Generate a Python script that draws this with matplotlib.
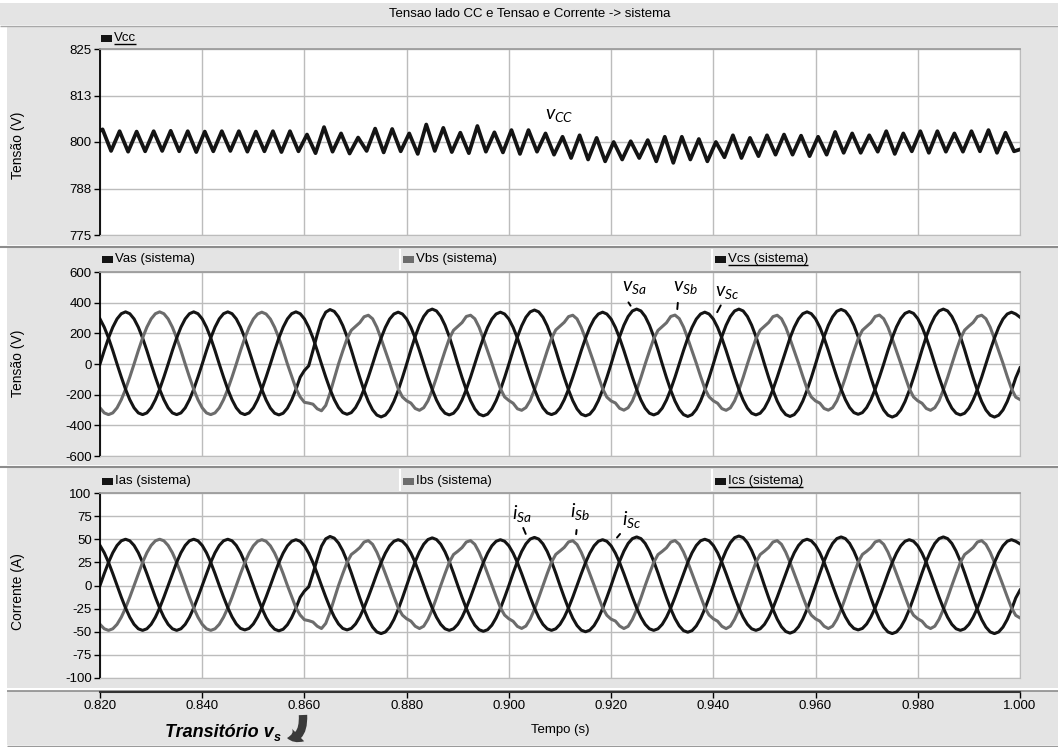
import numpy as np
import matplotlib.pyplot as plt
from matplotlib.patches import Rectangle, FancyArrowPatch
from matplotlib.path import Path

W, H = 1058, 747
FONT = "Liberation Sans"

plt.rcParams["font.family"] = [FONT, "DejaVu Sans"]
plt.rcParams["mathtext.fontset"] = "custom"
plt.rcParams["mathtext.it"] = "Lato:italic"
plt.rcParams["mathtext.rm"] = "Lato"

# sample grid of the phase waveforms: 24 samples per 50 Hz cycle
T_START = 0.820
STEP = 1 / 1200

X_TICKS = [0.82, 0.84, 0.86, 0.88, 0.90, 0.92, 0.94, 0.96, 0.98, 1.00]
X_LABELS = ["0.820", "0.840", "0.860", "0.880", "0.900", "0.920", "0.940", "0.960", "0.980", "1.000"]

VCC_TICKS = [775, 787.5, 800, 812.5, 825]
VCC_LABELS = ["775", "788", "800", "813", "825"]
V_TICKS = [-600, -400, -200, 0, 200, 400, 600]
V_LABELS = ["-600", "-400", "-200", "0", "200", "400", "600"]
I_TICKS = [-100, -75, -50, -25, 0, 25, 50, 75, 100]
I_LABELS = ["-100", "-75", "-50", "-25", "0", "25", "50", "75", "100"]

# DC link voltage: ripple peaks / troughs (300 Hz)
VCC_FIRST, VCC_LAST = 803.0, 798.0
VCC_PEAK_T0 = 0.8205
vcc_peaks = [
    803.4, 802.9, 802.8, 802.9, 803.0, 802.9, 802.8, 802.9, 802.9, 802.8, 802.9, 802.9,
    802.0, 804.0, 802.3, 801.2, 803.6, 803.5, 802.3, 804.7, 803.8, 802.5, 804.3, 802.6,
    803.2, 803.2, 802.3, 801.4, 801.8, 801.1, 800.0, 800.2, 800.5, 801.4, 801.4, 800.8,
    800.0, 801.8, 801.1, 801.8, 802.0, 801.7, 801.4, 802.7, 802.3, 801.8, 802.9, 802.3,
    802.9, 802.9, 802.3, 802.9, 803.2, 802.5,
]
vcc_troughs = [
    797.6, 797.4, 797.5, 797.6, 797.5, 797.3, 797.5, 797.6, 797.4, 797.5, 797.3, 797.5,
    797.0, 797.4, 796.9, 797.6, 797.2, 797.5, 796.8, 797.6, 797.3, 797.0, 797.4, 797.2,
    796.8, 797.4, 796.6, 795.7, 795.3, 794.8, 795.3, 795.7, 794.8, 794.4, 795.3, 794.8,
    795.9, 795.7, 796.2, 796.6, 796.6, 796.2, 796.6, 797.1, 797.1, 797.4, 796.8, 797.5,
    797.1, 797.4, 797.4, 797.5, 797.1, 797.5,
]

# system voltages (V), one row per cycle
vas = [
    0, 88, 170, 240, 294, 328, 340, 328, 294, 240, 170, 88, 0, -85, -165, -233, -286, -319, -330, -319, -286, -233, -165, -85,
    0, 88, 170, 240, 294, 328, 340, 328, 294, 240, 170, 88, 0, -86, -166, -235, -288, -321, -332, -321, -288, -235, -166, -86,
    -42, -12, 88, 192, 285, 338, 355, 343, 307, 251, 178, 92, 0, -89, -173, -244, -299, -333, -345, -333, -299, -244, -173, -89,
    0, 93, 179, 253, 310, 346, 358, 346, 310, 253, 179, 93, 0, -88, -169, -239, -293, -327, -338, -327, -293, -239, -169, -88,
    0, 91, 176, 249, 305, 340, 352, 340, 305, 249, 176, 91, 0, -88, -169, -239, -293, -327, -338, -327, -293, -239, -169, -88,
    0, 93, 179, 253, 310, 346, 358, 346, 310, 253, 179, 93, 0, -89, -171, -242, -296, -330, -342, -330, -296, -242, -171, -89,
    0, 93, 179, 253, 310, 346, 358, 346, 310, 253, 179, 93, 0, -89, -171, -242, -296, -330, -342, -330, -296, -242, -171, -89,
    0, 92, 178, 252, 308, 344, 356, 344, 308, 252, 178, 92, 0, -90, -173, -245, -300, -334, -346, -334, -300, -245, -173, -90,
    0, 93, 179, 253, 310, 346, 358, 346, 310, 253, 179, 93, 0, -90, -173, -245, -300, -334, -346, -334, -300, -245, -173, -90,
    -25,
]
vbs = [
    -286, -319, -330, -319, -286, -233, -165, -85, 0, 88, 170, 240, 294, 328, 340, 328, 294, 240, 170, 88, 0, -85, -165, -233,
    -286, -319, -330, -319, -286, -233, -165, -85, 0, 88, 169, 239, 293, 326, 338, 326, 293, 239, 169, 88, 0, -80, -160, -215,
    -250, -255, -262, -292, -305, -270, -190, -95, 0, 85, 165, 220, 245, 270, 308, 318, 295, 240, 165, 85, 5, -80, -160, -215,
    -240, -255, -290, -302, -285, -240, -170, -88, 0, 85, 165, 220, 245, 270, 310, 318, 295, 240, 165, 85, 5, -80, -160, -215,
    -238, -256, -292, -302, -284, -238, -168, -87, 0, 86, 166, 222, 247, 272, 309, 318, 294, 238, 164, 84, 4, -81, -161, -216,
    -241, -254, -289, -301, -285, -241, -171, -88, 0, 84, 164, 219, 244, 269, 310, 319, 296, 241, 166, 86, 5, -80, -160, -214,
    -240, -256, -291, -302, -286, -240, -170, -88, 0, 85, 165, 221, 246, 271, 309, 318, 295, 240, 165, 85, 5, -80, -161, -215,
    -241, -255, -290, -301, -285, -240, -170, -89, 0, 85, 165, 220, 245, 270, 310, 319, 295, 240, 165, 85, 4, -80, -160, -215,
    -240, -256, -290, -302, -285, -240, -169, -88, 0, 86, 165, 221, 247, 271, 309, 318, 295, 240, 165, 84, 5, -81, -161, -216,
    -232,
]
vcs = [
    294, 240, 170, 88, 0, -85, -165, -233, -286, -319, -330, -319, -286, -233, -165, -85, 0, 88, 170, 240, 294, 328, 340, 328,
    294, 240, 170, 88, 0, -85, -165, -233, -286, -319, -330, -319, -286, -233, -165, -85, 0, 88, 170, 240, 294, 328, 340, 328,
    294, 240, 170, 88, 0, -85, -164, -232, -284, -317, -328, -317, -284, -232, -164, -85, 0, 88, 169, 239, 293, 326, 338, 326,
    293, 239, 169, 88, 0, -86, -166, -235, -288, -321, -332, -321, -288, -235, -166, -86, 0, 88, 169, 239, 293, 326, 338, 326,
    293, 239, 169, 88, 0, -85, -165, -233, -286, -319, -330, -319, -286, -233, -165, -85, 0, 88, 169, 239, 293, 326, 338, 326,
    293, 239, 169, 88, 0, -86, -166, -235, -288, -321, -332, -321, -288, -235, -166, -86, 0, 88, 169, 239, 293, 326, 338, 326,
    293, 239, 169, 88, 0, -86, -166, -235, -288, -321, -332, -321, -288, -235, -166, -86, 0, 88, 170, 240, 294, 328, 340, 328,
    294, 240, 170, 88, 0, -85, -164, -232, -284, -317, -328, -317, -284, -232, -164, -85, 0, 89, 171, 242, 296, 330, 342, 330,
    296, 242, 171, 89, 0, -86, -166, -235, -288, -321, -332, -321, -288, -235, -166, -86, 0, 88, 169, 239, 293, 326, 338, 326,
    305,
]

# system currents (A)
ias = [
    0, 12.9, 25, 35.4, 43.3, 48.3, 50, 48.3, 43.3, 35.4, 25, 12.9, 0, -12.6, -24.3, -34.3, -42, -46.8, -48.5, -46.8, -42, -34.3, -24.3, -12.6,
    0, 12.9, 25, 35.4, 43.3, 48.3, 50, 48.3, 43.3, 35.4, 25, 12.9, 0, -12.7, -24.5, -34.6, -42.4, -47.3, -49, -47.3, -42.4, -34.6, -24.5, -12.7,
    -6, -1.5, 13, 28.5, 42.5, 50.5, 53, 51.2, 45.9, 37.5, 26.5, 13.7, 0, -13.5, -26, -36.8, -45, -50.2, -52, -50.2, -45, -36.8, -26, -13.5,
    0, 13.3, 25.8, 36.4, 44.6, 49.7, 51.5, 49.7, 44.6, 36.4, 25.8, 13.3, 0, -12.8, -24.8, -35, -42.9, -47.8, -49.5, -47.8, -42.9, -35, -24.8, -12.8,
    0, 13.5, 26, 36.8, 45, 50.2, 52, 50.2, 45, 36.8, 26, 13.5, 0, -12.9, -25, -35.4, -43.3, -48.3, -50, -48.3, -43.3, -35.4, -25, -12.9,
    0, 13.6, 26.3, 37.1, 45.5, 50.7, 52.5, 50.7, 45.5, 37.1, 26.3, 13.6, 0, -13.1, -25.3, -35.7, -43.7, -48.8, -50.5, -48.8, -43.7, -35.7, -25.3, -13.1,
    0, 13.9, 26.8, 37.8, 46.3, 51.7, 53.5, 51.7, 46.3, 37.8, 26.8, 13.9, 0, -13.3, -25.8, -36.4, -44.6, -49.7, -51.5, -49.7, -44.6, -36.4, -25.8, -13.3,
    0, 13.6, 26.3, 37.1, 45.5, 50.7, 52.5, 50.7, 45.5, 37.1, 26.3, 13.6, 0, -13.5, -26, -36.8, -45, -50.2, -52, -50.2, -45, -36.8, -26, -13.5,
    0, 13.6, 26.3, 37.1, 45.5, 50.7, 52.5, 50.7, 45.5, 37.1, 26.3, 13.6, 0, -13.5, -26, -36.8, -45, -50.2, -52, -50.2, -45, -36.8, -26, -13.5,
    -5,
]
ibs = [
    -42, -46.8, -48.5, -46.8, -42, -34.3, -24.3, -12.6, 0, 12.9, 25, 35.4, 43.3, 48.3, 50, 48.3, 43.3, 35.4, 25, 12.9, 0, -12.6, -24.3, -34.3,
    -42, -46.8, -48.5, -46.8, -42, -34.3, -24.3, -12.6, 0, 12.8, 24.8, 35, 42.9, 47.8, 49.5, 47.8, 42.9, 35, 24.8, 12.8, 0, -12, -24, -32,
    -37, -38, -39.5, -44, -46.5, -41, -29, -14.5, 0, 12.8, 25, 33.5, 37, 41, 47, 48.5, 44.5, 36, 25, 12.8, 0.5, -12, -24, -32,
    -36, -38.5, -44, -46.5, -44, -36.5, -26, -13.3, 0, 12.8, 25, 33.5, 37, 41, 47, 48.5, 44.5, 36, 25, 12.8, 0.5, -12, -24, -32,
    -36, -38.7, -44.2, -46.4, -43.8, -36.3, -25.8, -13.2, 0, 12.9, 25.1, 33.6, 37.3, 41.2, 47.1, 48.4, 44.3, 35.8, 24.8, 12.7, 0.4, -12.1, -24.2, -32.2,
    -36.4, -38.4, -43.8, -46.5, -44.1, -36.6, -26.1, -13.4, 0, 12.7, 24.9, 33.4, 36.9, 40.8, 46.9, 48.6, 44.6, 36.2, 25.2, 12.9, 0.6, -11.9, -23.9, -31.9,
    -36, -38.6, -44.1, -46.6, -44, -36.4, -26, -13.3, 0, 12.8, 25, 33.5, 37.1, 41.1, 47, 48.5, 44.5, 36, 25, 12.8, 0.5, -12, -24, -32,
    -36.1, -38.5, -44, -46.5, -43.9, -36.5, -26, -13.3, 0, 12.8, 25, 33.6, 37, 41, 47.1, 48.6, 44.5, 36.1, 25, 12.8, 0.5, -12, -24.1, -32.1,
    -36, -38.6, -44.1, -46.5, -44, -36.5, -25.9, -13.2, 0, 12.8, 25, 33.5, 37, 41, 47, 48.5, 44.4, 36, 24.9, 12.7, 0.4, -12.1, -24.2, -32.3,
    -35,
]
ics = [
    43.3, 35.4, 25, 12.9, 0, -12.6, -24.3, -34.3, -42, -46.8, -48.5, -46.8, -42, -34.3, -24.3, -12.6, 0, 12.9, 25, 35.4, 43.3, 48.3, 50, 48.3,
    43.3, 35.4, 25, 12.9, 0, -12.4, -24, -33.9, -41.6, -46.4, -48, -46.4, -41.6, -33.9, -24, -12.4, 0, 12.8, 24.8, 35, 42.9, 47.8, 49.5, 47.8,
    42.9, 35, 24.8, 12.8, 0, -12.4, -24, -33.9, -41.6, -46.4, -48, -46.4, -41.6, -33.9, -24, -12.4, 0, 12.8, 24.8, 35, 42.9, 47.8, 49.5, 47.8,
    42.9, 35, 24.8, 12.8, 0, -12.6, -24.3, -34.3, -42, -46.8, -48.5, -46.8, -42, -34.3, -24.3, -12.6, 0, 12.8, 24.8, 35, 42.9, 47.8, 49.5, 47.8,
    42.9, 35, 24.8, 12.8, 0, -12.6, -24.3, -34.3, -42, -46.8, -48.5, -46.8, -42, -34.3, -24.3, -12.6, 0, 12.8, 24.8, 35, 42.9, 47.8, 49.5, 47.8,
    42.9, 35, 24.8, 12.8, 0, -12.6, -24.3, -34.3, -42, -46.8, -48.5, -46.8, -42, -34.3, -24.3, -12.6, 0, 12.9, 25, 35.4, 43.3, 48.3, 50, 48.3,
    43.3, 35.4, 25, 12.9, 0, -12.6, -24.3, -34.3, -42, -46.8, -48.5, -46.8, -42, -34.3, -24.3, -12.6, 0, 12.9, 25, 35.4, 43.3, 48.3, 50, 48.3,
    43.3, 35.4, 25, 12.9, 0, -12.4, -24, -33.9, -41.6, -46.4, -48, -46.4, -41.6, -33.9, -24, -12.4, 0, 12.8, 24.8, 35, 42.9, 47.8, 49.5, 47.8,
    42.9, 35, 24.8, 12.8, 0, -12.6, -24.3, -34.3, -42, -46.8, -48.5, -46.8, -42, -34.3, -24.3, -12.6, 0, 12.8, 24.8, 35, 42.9, 47.8, 49.5, 47.8,
    45,
]

BLACK = "#141414"
GRAY = "#6c6c6c"
PANEL = "#e4e4e4"
GRID = "#bcbcbc"


def px_rect(x0, y0, x1, y1):
    return [x0 / W, 1 - y1 / H, (x1 - x0) / W, (y1 - y0) / H]


def make_panel(y0, y1, ylim, ticks, labels):
    ax = fig.add_axes(px_rect(100, y0, 1020, y1), zorder=2)
    ax.set_facecolor("white")
    ax.set_xlim(X_TICKS[0], X_TICKS[-1])
    ax.set_ylim(*ylim)
    ax.set_xticks(X_TICKS)
    ax.set_yticks(ticks, labels)
    ax.grid(True, color=GRID, lw=1.0)
    ax.set_axisbelow(True)
    ax.tick_params(axis="x", length=0, labelbottom=False)
    ax.tick_params(axis="y", direction="out", length=4.5, width=1, pad=1.5,
                   labelsize=9.5, colors="black")
    ax.spines["left"].set_color("black")
    ax.spines["left"].set_linewidth(1.3)
    ax.spines["top"].set_color("#9c9c9c")
    ax.spines["top"].set_linewidth(1.3)
    ax.spines["bottom"].set_color(GRID)
    ax.spines["right"].set_color(GRID)
    return ax


fig = plt.figure(figsize=(W / 100, H / 100), dpi=100)
fig.patch.set_facecolor("white")

# background frame drawn in pixel coordinates
bg = fig.add_axes([0, 0, 1, 1], zorder=0)
bg.set_xlim(0, W)
bg.set_ylim(H, 0)
bg.axis("off")


def box(x0, y0, x1, y1, color=PANEL):
    bg.add_patch(Rectangle((x0, y0), x1 - x0, y1 - y0, facecolor=color, edgecolor="none"))


box(0, 3, W, 25)
box(7, 27, W, 245)
box(7, 248, W, 465)
box(7, 468, W, 688)
box(7, 691, W, 745)
bg.hlines([25.5], 0, W, color="#a8a8a8", lw=1)
bg.hlines([246.5, 466.5], 0, W, color="#8c8c8c", lw=1.5)
bg.hlines([690.5], 7, W, color="#8c8c8c", lw=1.2)
bg.hlines([745.5], 7, W, color="#9a9a9a", lw=1)
bg.vlines([400, 712], 249, 270, color="white", lw=1.5)
bg.vlines([400, 712], 469, 491, color="white", lw=1.5)

bg.text(530, 14, "Tensao lado CC e Tensao e Corrente -> sistema", fontsize=9.5,
        ha="center", va="center")

bg.text(18, 145, "Tensão (V)", rotation=90, fontsize=10, ha="center", va="center")
bg.text(18, 363, "Tensão (V)", rotation=90, fontsize=10, ha="center", va="center")
bg.text(18, 592, "Corrente (A)", rotation=90, fontsize=10, ha="center", va="center")

legend_items = [
    (101, 38, "Vcc", BLACK, True),
    (102, 259, "Vas (sistema)", BLACK, False),
    (403, 259, "Vbs (sistema)", GRAY, False),
    (715, 259, "Vcs (sistema)", BLACK, True),
    (102, 481, "Ias (sistema)", BLACK, False),
    (403, 481, "Ibs (sistema)", GRAY, False),
    (715, 481, "Ics (sistema)", BLACK, True),
]
underlined = []
for x, y, label, color, under in legend_items:
    box(x, y - 3.5, x + 11, y + 3.5, color)
    t = bg.text(x + 13, y, label, fontsize=9.5, ha="left", va="center")
    if under:
        underlined.append((t, y))

bg.text(560, 730, "Tempo (s)", fontsize=9.5, ha="center", va="center")
trans_txt = bg.text(165, 737, "Transitório v", fontsize=13, fontweight="bold",
                    fontstyle="italic", ha="left", va="baseline")

renderer = fig.canvas.get_renderer()
for t, y in underlined:
    bb = t.get_window_extent(renderer)
    bg.hlines([y + 6], bb.x0, bb.x1, color="black", lw=1)
bb = trans_txt.get_window_extent(renderer)
bg.text(bb.x1 + 0.5, 741, "s", fontsize=9, fontweight="bold", fontstyle="italic",
        ha="left", va="baseline")

arrow_path = Path([(303, 715), (304, 740), (287, 738)],
                  [Path.MOVETO, Path.CURVE3, Path.CURVE3])
bg.add_patch(FancyArrowPatch(path=arrow_path, transform=bg.transData,
                             arrowstyle="simple,head_length=0.75,head_width=1.15,tail_width=0.55",
                             mutation_scale=11, color="#3a3a3a", lw=0))

# --- panels ---
t_phase = T_START + STEP * np.arange(len(vas))
n_rip = len(vcc_peaks) + len(vcc_troughs)
t_rip = VCC_PEAK_T0 + np.arange(n_rip) / 600
vcc_vals = np.empty(n_rip)
vcc_vals[0::2] = vcc_peaks
vcc_vals[1::2] = vcc_troughs
t_vcc = np.concatenate([[T_START], t_rip, [X_TICKS[-1]]])
vcc = np.concatenate([[VCC_FIRST], vcc_vals, [VCC_LAST]])

ax1 = make_panel(49, 235, (775, 825), VCC_TICKS, VCC_LABELS)
ax1.plot(t_vcc, vcc, color=BLACK, lw=2.7, solid_joinstyle="round")
ax1.text(0.9071, 807, r"$v_{CC}$", fontsize=14, ha="left", va="center")

ax2 = make_panel(272, 456, (-600, 600), V_TICKS, V_LABELS)
ax2.plot(t_phase, vas, color=BLACK, lw=2.2)
ax2.plot(t_phase, vbs, color=GRAY, lw=2.2)
ax2.plot(t_phase, vcs, color=BLACK, lw=2.2)

ax3 = make_panel(493, 678, (-100, 100), I_TICKS, I_LABELS)
ax3.plot(t_phase, ias, color=BLACK, lw=2.2)
ax3.plot(t_phase, ibs, color=GRAY, lw=2.2)
ax3.plot(t_phase, ics, color=BLACK, lw=2.2)

labels_v = [
    (r"$v_{Sa}$", (0.9221, 496), (0.9231, 417), (0.9241, 365)),
    (r"$v_{Sb}$", (0.9321, 502), (0.9331, 417), (0.9329, 340)),
    (r"$v_{Sc}$", (0.9403, 466), (0.9417, 398), (0.9405, 322)),
]
for txt, pos, p0, p1 in labels_v:
    ax2.text(pos[0], pos[1], txt, fontsize=14, ha="left", va="center")
    ax2.annotate("", xy=p1, xytext=p0, arrowprops=dict(arrowstyle="-", lw=1.4, color="black"))

labels_i = [
    (r"$i_{Sa}$", (0.9006, 78), (0.9026, 65), (0.9035, 53)),
    (r"$i_{Sb}$", (0.9120, 80), (0.9133, 63), (0.9131, 52.5)),
    (r"$i_{Sc}$", (0.9221, 71), (0.9221, 58), (0.9208, 49.5)),
]
for txt, pos, p0, p1 in labels_i:
    ax3.text(pos[0], pos[1], txt, fontsize=14, ha="left", va="center")
    ax3.annotate("", xy=p1, xytext=p0, arrowprops=dict(arrowstyle="-", lw=1.4, color="black"))

# time axis band
axt = fig.add_axes([100 / W, 1 - 692 / H, 920 / W, 1 / H], zorder=2)
axt.set_facecolor("none")
axt.set_xlim(X_TICKS[0], X_TICKS[-1])
axt.set_xticks(X_TICKS, X_LABELS)
axt.set_yticks([])
for side in ["top", "left", "right"]:
    axt.spines[side].set_visible(False)
axt.spines["bottom"].set_color("#333333")
axt.spines["bottom"].set_linewidth(1.5)
axt.tick_params(axis="x", direction="out", length=4, width=1, pad=2, labelsize=9.5)

fig.savefig("out.png", dpi=100, facecolor=fig.get_facecolor())
